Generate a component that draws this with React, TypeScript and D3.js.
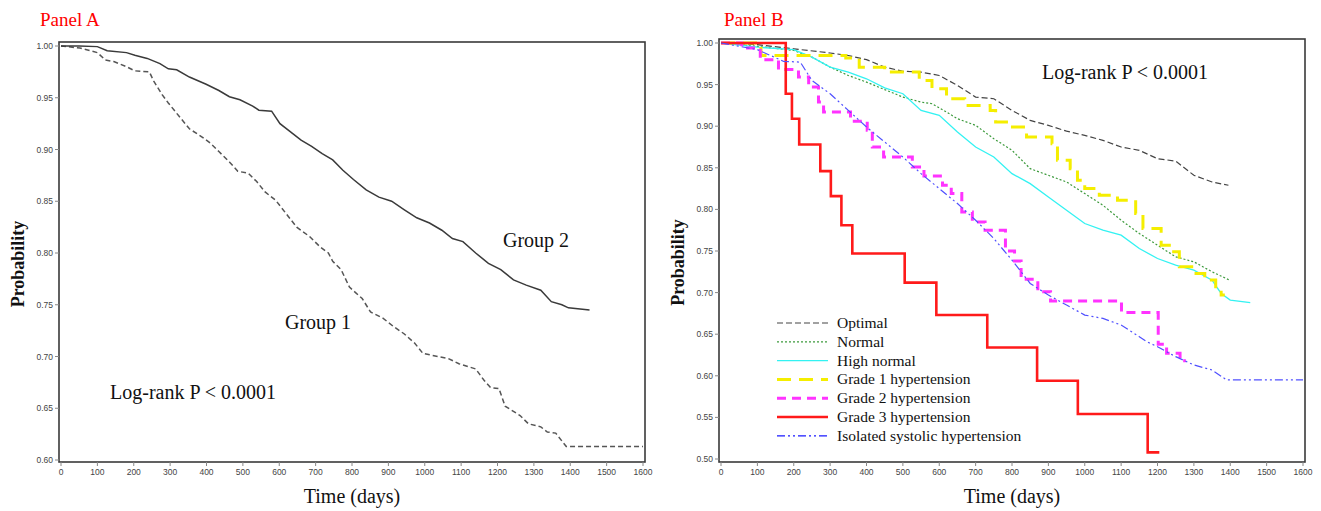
import React from "react";
import * as d3 from "d3";

type Pt = [number, number];

// Panel A: days, survival probability
const group1: Pt[] = [
  [0, 1], [52, 0.998], [100, 0.9936], [122, 0.9865], [145, 0.985], [180, 0.98], [203, 0.976],
  [243, 0.975], [255, 0.966], [278, 0.953], [295, 0.945], [318, 0.935], [353, 0.92], [388, 0.912],
  [411, 0.906], [434, 0.898], [463, 0.888], [486, 0.879], [515, 0.877], [538, 0.869], [561, 0.859],
  [590, 0.851], [619, 0.838], [648, 0.825], [683, 0.816], [712, 0.806], [735, 0.8], [747, 0.792],
  [770, 0.784], [793, 0.767], [828, 0.756], [851, 0.743], [885, 0.737], [914, 0.729], [943, 0.722],
  [972, 0.713], [995, 0.703], [1036, 0.7], [1065, 0.698], [1094, 0.693], [1140, 0.688], [1163, 0.677],
  [1181, 0.67], [1204, 0.669], [1221, 0.652], [1262, 0.643], [1285, 0.635], [1319, 0.632], [1337, 0.627],
  [1360, 0.626], [1389, 0.613], [1600, 0.613],
];
const group2: Pt[] = [
  [0, 1], [50, 1], [100, 0.9994], [127, 0.9955], [180, 0.9936], [203, 0.991], [237, 0.988], [272, 0.983],
  [295, 0.978], [318, 0.977], [353, 0.97], [399, 0.963], [434, 0.957], [463, 0.951], [492, 0.948],
  [527, 0.942], [544, 0.938], [579, 0.937], [602, 0.925], [631, 0.917], [660, 0.909], [689, 0.903],
  [718, 0.896], [747, 0.89], [775, 0.88], [804, 0.871], [839, 0.861], [874, 0.854], [909, 0.85],
  [943, 0.842], [978, 0.834], [1013, 0.829], [1047, 0.822], [1076, 0.814], [1105, 0.811], [1140, 0.8],
  [1175, 0.79], [1209, 0.784], [1244, 0.774], [1279, 0.769], [1319, 0.764], [1348, 0.753], [1377, 0.75],
  [1395, 0.747], [1453, 0.745],
];

// Panel B: blood pressure categories
const optimal: Pt[] = [
  [0, 1], [100, 0.998], [200, 0.993], [300, 0.988], [350, 0.985], [400, 0.98], [450, 0.971], [500, 0.966],
  [550, 0.965], [600, 0.961], [650, 0.949], [700, 0.935], [750, 0.933], [800, 0.919], [850, 0.907],
  [900, 0.901], [950, 0.894], [1000, 0.889], [1050, 0.883], [1100, 0.875], [1150, 0.871], [1200, 0.861],
  [1250, 0.858], [1300, 0.841], [1350, 0.833], [1395, 0.829],
];
const normal: Pt[] = [
  [0, 1], [100, 0.996], [200, 0.991], [250, 0.983], [300, 0.971], [350, 0.961], [400, 0.953], [450, 0.944],
  [500, 0.935], [550, 0.929], [580, 0.927], [620, 0.917], [650, 0.909], [700, 0.901], [750, 0.885],
  [800, 0.871], [850, 0.849], [900, 0.841], [950, 0.833], [1000, 0.819], [1050, 0.805], [1100, 0.787],
  [1150, 0.771], [1200, 0.757], [1250, 0.743], [1300, 0.737], [1350, 0.725], [1398, 0.715],
];
const highNormal: Pt[] = [
  [0, 1], [100, 0.995], [200, 0.992], [250, 0.983], [300, 0.971], [350, 0.965], [400, 0.957], [450, 0.946],
  [500, 0.939], [550, 0.919], [600, 0.913], [650, 0.893], [700, 0.875], [750, 0.863], [800, 0.843],
  [850, 0.831], [900, 0.815], [950, 0.799], [1000, 0.783], [1050, 0.775], [1100, 0.769], [1150, 0.753],
  [1200, 0.741], [1250, 0.733], [1300, 0.727], [1350, 0.715], [1375, 0.699], [1400, 0.691], [1455, 0.688],
];
const grade1: Pt[] = [
  [0, 1], [110, 0.985], [343, 0.982], [380, 0.971], [450, 0.965], [545, 0.955], [580, 0.945], [620, 0.933],
  [670, 0.925], [740, 0.919], [755, 0.905], [790, 0.899], [840, 0.887], [910, 0.879], [925, 0.859],
  [960, 0.849], [980, 0.835], [1000, 0.825], [1040, 0.817], [1090, 0.811], [1140, 0.795], [1160, 0.777],
  [1210, 0.757], [1240, 0.749], [1260, 0.731], [1300, 0.723], [1330, 0.715], [1360, 0.707], [1375, 0.697],
  [1385, 0.697],
];
const grade2: Pt[] = [
  [0, 1], [57, 0.994], [108, 0.98], [158, 0.968], [213, 0.959], [241, 0.947], [268, 0.929], [282, 0.917],
  [356, 0.906], [402, 0.895], [416, 0.875], [447, 0.863], [526, 0.851], [558, 0.84], [609, 0.829],
  [633, 0.819], [662, 0.797], [691, 0.785], [726, 0.775], [782, 0.75], [807, 0.738], [825, 0.716],
  [871, 0.701], [906, 0.69], [1101, 0.676], [1202, 0.638], [1225, 0.627], [1262, 0.618], [1278, 0.618],
];
const grade3: Pt[] = [
  [0, 1], [178, 0.939], [195, 0.909], [215, 0.878], [273, 0.846], [302, 0.816], [331, 0.781], [361, 0.747],
  [505, 0.712], [592, 0.673], [732, 0.634], [869, 0.594], [981, 0.554], [1173, 0.508], [1205, 0.508],
];
const isolated: Pt[] = [
  [0, 1], [100, 0.992], [172, 0.978], [218, 0.977], [250, 0.955], [300, 0.939], [350, 0.919], [400, 0.899],
  [450, 0.881], [500, 0.863], [550, 0.843], [600, 0.825], [650, 0.807], [700, 0.787], [750, 0.765],
  [800, 0.739], [850, 0.711], [900, 0.697], [950, 0.685], [1000, 0.673], [1050, 0.669], [1100, 0.661],
  [1150, 0.647], [1170, 0.641], [1200, 0.635], [1250, 0.623], [1300, 0.613], [1350, 0.607], [1390, 0.595],
  [1600, 0.595],
];

const legendLabels = [
  "Optimal", "Normal", "High normal", "Grade 1 hypertension", "Grade 2 hypertension",
  "Grade 3 hypertension", "Isolated systolic hypertension",
];

const serif = "'Liberation Serif', 'Times New Roman', serif";
const sans = "'Liberation Sans', Arial, sans-serif";

interface Series {
  data: Pt[];
  color: string;
  width: number;
  dash?: string;
  step?: boolean;
  legendColor?: string;
}

interface PanelProps {
  title: string;
  titleX: number;
  frame: { left: number; right: number; top: number; bottom: number };
  xRange: [number, number];
  yDomain: [number, number];
  yRange: [number, number];
  series: Series[];
  children?: React.ReactNode;
}

function Panel({ title, titleX, frame, xRange, yDomain, yRange, series, children }: PanelProps) {
  const x = d3.scaleLinear().domain([0, 1600]).range(xRange);
  const y = d3.scaleLinear().domain(yDomain).range(yRange);
  const xTicks = d3.range(0, 1601, 100);
  const yTicks = d3.range(Math.round(yDomain[0] * 100), 101, 5).map((v) => v / 100);
  const fmt = d3.format(".2f");
  const midX = (frame.left + frame.right) / 2;
  const midY = (frame.top + frame.bottom) / 2 + 12;

  return (
    <g>
      <text x={titleX} y={26} fill="#ff0000" fontFamily={serif} fontSize={19}>{title}</text>
      {series.map((s, i) => {
        const line = d3
          .line<Pt>()
          .x((d) => x(d[0]))
          .y((d) => y(d[1]))
          .curve(s.step ? d3.curveStepAfter : d3.curveLinear);
        return (
          <path key={i} d={line(s.data) ?? ""} fill="none" stroke={s.color} strokeWidth={s.width}
            strokeDasharray={s.dash} strokeLinejoin="miter" />
        );
      })}
      <rect x={frame.left} y={frame.top} width={frame.right - frame.left} height={frame.bottom - frame.top}
        fill="none" stroke="#3a3a3a" strokeWidth={1.6} />
      {yTicks.map((t) => (
        <g key={t}>
          <line x1={frame.left - 4} x2={frame.left} y1={y(t)} y2={y(t)} stroke="#888" />
          <text x={frame.left - 6} y={y(t) + 3} textAnchor="end" fontFamily={sans} fontSize={8.5} fill="#444">
            {fmt(t)}
          </text>
        </g>
      ))}
      {xTicks.map((t) => (
        <g key={t}>
          <line x1={x(t)} x2={x(t)} y1={frame.bottom} y2={frame.bottom + 4} stroke="#888" />
          <text x={x(t)} y={frame.bottom + 13} textAnchor="middle" fontFamily={sans} fontSize={8.5} fill="#444">
            {t}
          </text>
        </g>
      ))}
      <text x={midX} y={503} textAnchor="middle" fontFamily={serif} fontSize={20} fill="#111">Time (days)</text>
      <text transform={`translate(${frame.left - 35},${midY}) rotate(-90)`} textAnchor="middle"
        fontFamily={serif} fontSize={18} fontWeight="bold" fill="#111">Probability</text>
      {children}
    </g>
  );
}

export default function App() {
  const seriesA: Series[] = [
    { data: group1, color: "#555", width: 1.5, dash: "5,3" },
    { data: group2, color: "#3a3a3a", width: 1.5 },
  ];
  const seriesB: Series[] = [
    { data: optimal, color: "#444", width: 1.2, dash: "6,3" },
    { data: normal, color: "#3c9a3c", width: 1.2, dash: "2,2" },
    { data: highNormal, color: "#33f2f2", width: 1.3 },
    { data: grade1, color: "#f5ee00", width: 3, dash: "14,8", step: true },
    { data: grade2, color: "#ff33ff", width: 3, dash: "9,6", step: true },
    { data: grade3, color: "#ff1a1a", width: 2.6, step: true },
    { data: isolated, color: "#5050ff", width: 1.2, dash: "8,3,2,3,2,3", legendColor: "#1a1aff" },
  ];

  return (
    <svg width={1321} height={511} style={{ position: "absolute", left: 0, top: 0, background: "#fff" }}>
      <Panel title="Panel A" titleX={40}
        frame={{ left: 59, right: 645, top: 42, bottom: 462 }}
        xRange={[61, 643]} yDomain={[0.6, 1]} yRange={[460, 46]} series={seriesA}>
        <text x={503} y={247} fontFamily={serif} fontSize={20} fill="#111">Group 2</text>
        <text x={285} y={329} fontFamily={serif} fontSize={20} fill="#111">Group 1</text>
        <text x={110} y={399} fontFamily={serif} fontSize={20} fill="#111">Log-rank P &lt; 0.0001</text>
      </Panel>
      <Panel title="Panel B" titleX={724}
        frame={{ left: 719, right: 1305, top: 39, bottom: 462 }}
        xRange={[721, 1303]} yDomain={[0.5, 1]} yRange={[459, 43]} series={seriesB}>
        <text x={1042} y={79} fontFamily={serif} fontSize={20} fill="#111">Log-rank P &lt; 0.0001</text>
        {seriesB.map((s, i) => (
          <g key={i} transform={`translate(0,${323 + i * 18.8})`}>
            <line x1={777} x2={828} y1={0} y2={0} stroke={s.legendColor ?? s.color} strokeWidth={s.width}
              strokeDasharray={s.dash} />
            <text x={837} y={5} fontFamily={serif} fontSize={15.5} fill="#111">{legendLabels[i]}</text>
          </g>
        ))}
      </Panel>
    </svg>
  );
}
